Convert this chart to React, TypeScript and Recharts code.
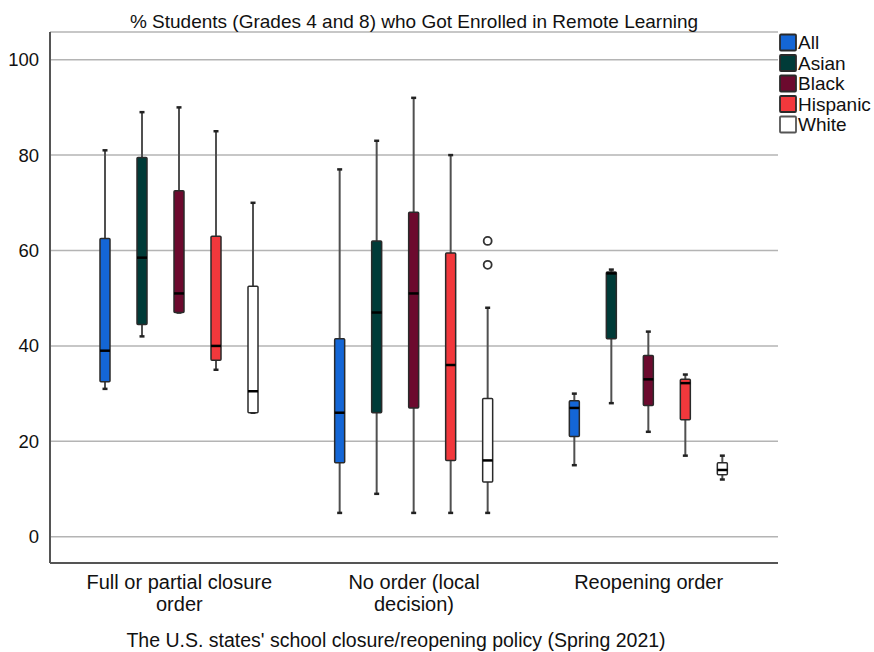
import React from 'react';
import { ComposedChart, Bar, XAxis, YAxis, CartesianGrid, Customized } from 'recharts';

const FONT = '"Liberation Sans", Arial, Helvetica, sans-serif';

const categories = ['Full or partial closure order', 'No order (local decision)', 'Reopening order'];
const categoryLines = [['Full or partial closure', 'order'], ['No order (local', 'decision)'], ['Reopening order']];
const groups = ['All', 'Asian', 'Black', 'Hispanic', 'White'];
const groupColors = ['#1466d6', '#003b38', '#6c0a2e', '#f2383c', '#ffffff'];
const yTicks = [0, 20, 40, 60, 80, 100];

// five-number summaries [min, q1, median, q3, max], one per policy category
const allStats = [[31, 32.5, 39, 62.5, 81], [5, 15.5, 26, 41.5, 77], [15, 21, 27, 28.5, 30]];
const asianStats = [[42, 44.5, 58.5, 79.5, 89], [9, 26, 47, 62, 83], [28, 41.5, 55.2, 55.5, 56]];
const blackStats = [[47, 47, 51, 72.5, 90], [5, 27, 51, 68, 92], [22, 27.5, 33, 38, 43]];
const hispanicStats = [[35, 37, 40, 63, 85], [5, 16, 36, 59.5, 80], [17, 24.5, 32.2, 33, 34]];
const whiteStats = [[26, 26, 30.5, 52.5, 70], [5, 11.5, 16, 29, 48], [12, 13, 14, 15.5, 17]];

// points beyond the whiskers
const noOutliers: number[][] = [[], [], []];
const whiteOutliers = [[], [57, 62], []];

const statsByGroup = [allStats, asianStats, blackStats, hispanicStats, whiteStats];
const outliersByGroup = [noOutliers, noOutliers, noOutliers, noOutliers, whiteOutliers];

const data = categories.map((category, ci) => {
  const row: Record<string, any> = { category };
  groups.forEach((g, gi) => {
    const s = statsByGroup[gi][ci];
    row[g] = [s[0], s[4]];
    row[g + 'Stats'] = s;
    row[g + 'Out'] = outliersByGroup[gi][ci];
  });
  return row;
});

// Box-and-whisker glyph drawn inside the [min, max] range bar
const makeBoxShape = (group: string, color: string) => (props: any) => {
  const { x, y, width, height, payload } = props;
  const [min, q1, med, q3, max] = payload[group + 'Stats'];
  const outs: number[] = payload[group + 'Out'] || [];
  const top = Math.min(y, y + height);
  const h = Math.abs(height);
  const k = h / (max - min);
  const py = (v: number) => top + (max - v) * k;
  const cx = x + width / 2;
  const bw = 10;
  return (
    <g>
      <line x1={cx} x2={cx} y1={py(max)} y2={py(min)} stroke="#505050" strokeWidth={2} />
      <line x1={cx - 2.5} x2={cx + 2.5} y1={py(max)} y2={py(max)} stroke="#222" strokeWidth={2.5} />
      <line x1={cx - 2.5} x2={cx + 2.5} y1={py(min)} y2={py(min)} stroke="#222" strokeWidth={2.5} />
      <rect
        x={cx - bw / 2}
        y={py(q3)}
        width={bw}
        height={Math.max(py(q1) - py(q3), 0.5)}
        rx={1}
        fill={color}
        stroke="#2a2a2a"
        strokeWidth={1.5}
      />
      <line x1={cx - bw / 2} x2={cx + bw / 2} y1={py(med)} y2={py(med)} stroke="#000" strokeWidth={2.5} />
      {outs.map((v, i) => (
        <circle key={i} cx={cx} cy={py(v)} r={4} fill="#fff" stroke="#333" strokeWidth={1.8} />
      ))}
    </g>
  );
};

const CategoryTick = (props: any) => {
  const { x, y, payload } = props;
  const idx = categories.indexOf(payload.value);
  const lines = categoryLines[idx] || [payload.value];
  return (
    <g>
      {lines.map((l, i) => (
        <text
          key={i}
          x={x}
          y={y + 17.5 + i * 22.5}
          textAnchor="middle"
          fontSize={20}
          fill="#111"
          fontFamily={FONT}
        >
          {l}
        </text>
      ))}
    </g>
  );
};

const Decorations = () => (
  <g fontFamily={FONT}>
    <text x={414} y={28} textAnchor="middle" fontSize={19} fill="#111">
      % Students (Grades 4 and 8) who Got Enrolled in Remote Learning
    </text>
    <text x={396} y={647} textAnchor="middle" fontSize={19.5} fill="#111">
      The U.S. states' school closure/reopening policy (Spring 2021)
    </text>
    {groups.map((g, i) => (
      <g key={g}>
        <rect
          x={780}
          y={34.5 + i * 20.5}
          width={16}
          height={16}
          rx={1}
          fill={groupColors[i]}
          stroke={i === 4 ? '#555' : '#2a2a2a'}
          strokeWidth={1.8}
        />
        <text x={798} y={42.5 + i * 20.5} dy="0.36em" fontSize={19} fill="#111">
          {g}
        </text>
      </g>
    ))}
  </g>
);

export default function App() {
  return (
    <div style={{ position: 'absolute', left: 0, top: 0, background: '#fff' }}>
      <ComposedChart
        width={874}
        height={652}
        data={data}
        margin={{ top: 32, right: 96, bottom: 0, left: 0 }}
        barGap={27}
        style={{ fontFamily: FONT }}
      >
        <CartesianGrid vertical={false} stroke="#b4b4b4" strokeWidth={1.5} />
        <XAxis
          dataKey="category"
          height={89}
          padding={{ left: 12, right: 12 }}
          axisLine={{ stroke: '#555', strokeWidth: 2 }}
          tickLine={false}
          tick={<CategoryTick />}
          interval={0}
        />
        <YAxis
          type="number"
          domain={[-5.5, 105.8]}
          ticks={yTicks}
          allowDataOverflow
          width={50}
          axisLine={{ stroke: '#555', strokeWidth: 2 }}
          tickLine={false}
          tickMargin={5}
          tick={{ fontSize: 18.5, fill: '#111', fontFamily: FONT }}
        />
        {groups.map((g, i) => (
          <Bar
            key={g}
            dataKey={g}
            barSize={10}
            isAnimationActive={false}
            shape={makeBoxShape(g, groupColors[i])}
          />
        ))}
        <Customized component={<Decorations />} />
      </ComposedChart>
    </div>
  );
}
